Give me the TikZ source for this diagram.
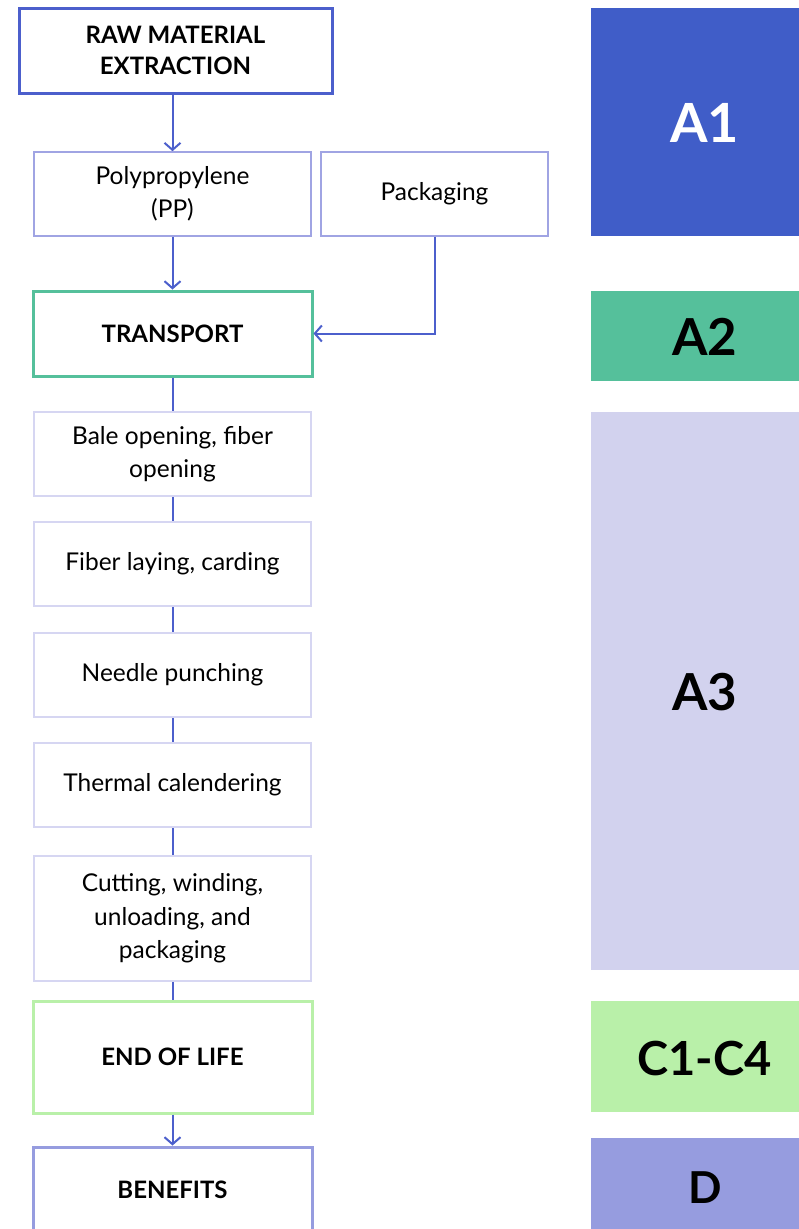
\documentclass[tikz,border=0pt]{standalone}
\usepackage{fontspec}
\setmainfont{Lato}
\usetikzlibrary{arrows.meta}
\definecolor{dblue}{HTML}{4C5FCC}
\definecolor{aone}{HTML}{405DC8}
\definecolor{lav}{HTML}{A0A4E3}
\definecolor{pale}{HTML}{D6D6F2}
\definecolor{teal}{HTML}{55C09B}
\definecolor{lgreen}{HTML}{B9F0A9}
\definecolor{bene}{HTML}{969CDF}
\definecolor{athree}{HTML}{D2D2EE}
\tikzset{
  base/.style={rectangle, fill=white, align=center, inner sep=0pt},
  major/.style={base, line width=3pt, font=\fontsize{24}{31}\selectfont\bfseries},
  minor/.style={base, line width=1.6pt, draw=lav, font=\fontsize{24.5}{33.5}\selectfont},
  stepbox/.style={base, line width=1.6pt, draw=pale, font=\fontsize{24.5}{33.5}\selectfont, minimum width=277pt, minimum height=84pt},
  phase/.style={rectangle, inner sep=0pt, minimum width=209pt},
  plabel/.style={inner sep=0pt, font=\bfseries},
  conn/.style={draw=dblue, line width=2pt},
  arr/.style={conn, -{Straight Barb[length=7pt,width=16pt,line width=2pt]}}
}
\begin{document}
\begin{tikzpicture}[x=1pt,y=-1pt]
\useasboundingbox[fill=white] (0,0) rectangle (799,1229);
% phase bars
\node[phase, fill=aone, minimum height=228pt] (p1) at (695.5,122) {};
\node[phase, fill=teal, minimum height=90pt] (p2) at (695.5,336) {};
\node[phase, fill=athree, minimum height=558pt] (p3) at (695.5,691) {};
\node[phase, fill=lgreen, minimum height=111pt] (p4) at (695.5,1056.5) {};
\node[phase, fill=bene, minimum height=91pt] (p5) at (695.5,1183.5) {};
\node[plabel, text=white, font=\fontsize{54}{58}\selectfont\bfseries] (l1) at (704.5,123) {A1};
\node[plabel, font=\fontsize{51}{56}\selectfont\bfseries] (l2) at (705,337) {A2};
\node[plabel, font=\fontsize{51}{56}\selectfont\bfseries] (l3) at (705,692) {A3};
\node[plabel, font=\fontsize{47}{50}\selectfont\bfseries] (l4) at (704.5,1058) {C1-C4};
\node[plabel, font=\fontsize{44}{46}\selectfont\bfseries] (l5) at (705,1188) {D};
% flow
\node[major, draw=dblue, minimum width=313pt, minimum height=85pt] (raw) at (175.5,50.5) {RAW MATERIAL\\EXTRACTION};
\node[minor, minimum width=277pt, minimum height=84pt] (pp) at (172.5,194) {Polypropylene\\(PP)};
\node[minor, minimum width=227pt, minimum height=84pt] (pack) at (434.5,194) {Packaging};
\node[major, draw=teal, minimum width=279pt, minimum height=85pt] (tr) at (172.5,333.5) {TRANSPORT};
\node[stepbox] (s1) at (172.5,454) {Bale opening, fiber\\opening};
\node[stepbox] (s2) at (172.5,564) {Fiber laying, carding};
\node[stepbox] (s3) at (172.5,675) {Needle punching};
\node[stepbox] (s4) at (172.5,785) {Thermal calendering};
\node[stepbox, minimum height=125pt] (s5) at (172.5,918.5) {Cutting, winding,\\unloading, and\\packaging};
\node[major, draw=lgreen, minimum width=279pt, minimum height=112pt] (eol) at (172.5,1057) {END OF LIFE};
\node[major, draw=bene, minimum width=279pt, minimum height=86pt] (ben) at (172.5,1190) {BENEFITS};
% connectors
\draw[arr] (raw.south -| pp.north) -- (pp.north);
\draw[arr] (pp.south) -- (tr.north);
\draw[arr] (pack.south) |- (tr.east);
\draw[conn] (tr.south) -- (s1.north);
\draw[conn] (s1.south) -- (s2.north);
\draw[conn] (s2.south) -- (s3.north);
\draw[conn] (s3.south) -- (s4.north);
\draw[conn] (s4.south) -- (s5.north);
\draw[conn] (s5.south) -- (eol.north);
\draw[arr] (eol.south) -- (ben.north);
\end{tikzpicture}
\end{document}
